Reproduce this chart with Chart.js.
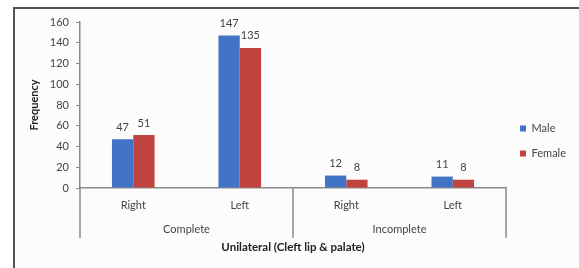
<!DOCTYPE html>
<html><head><meta charset="utf-8">
<script src="https://cdn.jsdelivr.net/npm/chart.js@4/dist/chart.umd.min.js"></script>
<style>
html,body{margin:0;padding:0;background:#fff;overflow:hidden;}
#frame{position:absolute;left:13px;top:7px;width:566px;height:261px;border-left:2px solid #555;border-top:2px solid #555;background:#fcfcfc;box-sizing:border-box;}
#wrap{position:absolute;left:0;top:0;width:579px;height:268px;}
</style></head><body>
<div id="frame"></div>
<div id="wrap"><canvas id="c" width="579" height="268"></canvas></div>
<script>
const categories = ['Right', 'Left', 'Right', 'Left'];
const groups = ['Complete', 'Incomplete'];
const seriesNames = ['Male', 'Female'];
const maleValues = [47, 147, 12, 11];
const femaleValues = [51, 135, 8, 8];
const yMin = 0, yMax = 160, yStep = 20;
const yTitle = 'Frequency';
const xTitle = 'Unilateral (Cleft lip & palate)';

const FONT = 'Lato';
const TXT = '#444';
const AXIS = '#8a8a8a';

const valueLabels = {
  id: 'valueLabels',
  afterDatasetsDraw(chart) {
    const ctx = chart.ctx;
    ctx.save();
    ctx.font = '11px ' + FONT;
    ctx.fillStyle = TXT;
    ctx.textAlign = 'center';
    ctx.textBaseline = 'middle';
    chart.data.datasets.forEach((ds, i) => {
      chart.getDatasetMeta(i).data.forEach((bar, j) => {
        ctx.fillText(String(ds.data[j]), bar.x, bar.y - 12);
      });
    });
    ctx.restore();
  }
};

const groupSeparators = {
  id: 'groupSeparators',
  afterDraw(chart) {
    const x = chart.scales.x;
    const ctx = chart.ctx;
    const per = categories.length / groups.length;
    const xs = [x.left];
    for (let g = 1; g < groups.length; g++) {
      xs.push((x.getPixelForValue(g * per - 1) + x.getPixelForValue(g * per)) / 2);
    }
    xs.push(x.right);
    const top = chart.chartArea.bottom;
    const bottom = top + 50;
    ctx.save();
    ctx.strokeStyle = AXIS;
    ctx.lineWidth = 1.5;
    xs.forEach(px => {
      ctx.beginPath();
      ctx.moveTo(px, top);
      ctx.lineTo(px, bottom);
      ctx.stroke();
    });
    ctx.restore();
  }
};

new Chart(document.getElementById('c'), {
  type: 'bar',
  data: {
    labels: categories,
    datasets: [
      { label: seriesNames[0], data: maleValues, backgroundColor: '#4174C4', categoryPercentage: 0.4, barPercentage: 1.0 },
      { label: seriesNames[1], data: femaleValues, backgroundColor: '#C0433F', categoryPercentage: 0.4, barPercentage: 1.0 }
    ]
  },
  options: {
    responsive: false,
    animation: false,
    layout: { padding: { top: 22, left: 14, bottom: 8, right: 3 } },
    plugins: {
      tooltip: { enabled: false },
      legend: {
        position: 'right',
        labels: { boxWidth: 6, boxHeight: 6, padding: 14, color: TXT, font: { family: FONT, size: 11 } }
      }
    },
    scales: {
      y: {
        min: yMin, max: yMax,
        ticks: { stepSize: yStep, color: TXT, padding: 7, font: { family: FONT, size: 11 } },
        grid: { display: true, drawOnChartArea: false, drawTicks: true, tickLength: 4, color: AXIS, lineWidth: 1 },
        border: { display: true, color: AXIS, width: 1.5 },
        title: { display: true, text: yTitle, color: '#222', font: { family: FONT, size: 11, weight: 'bold' }, padding: { top: 14 } },
        afterFit(s) { s.width = 66; }
      },
      x: {
        weight: 0,
        ticks: { color: TXT, padding: 11, font: { family: FONT, size: 11 } },
        grid: { display: true, drawOnChartArea: false, drawTicks: false, color: 'transparent' },
        border: { display: true, color: AXIS, width: 1.5 },
        afterFit(s) { s.height = 28; }
      },
      x2: {
        type: 'category',
        position: 'bottom',
        weight: 1,
        labels: groups,
        offset: true,
        ticks: { color: TXT, padding: 7, font: { family: FONT, size: 11 } },
        grid: { display: false, drawTicks: false },
        border: { display: false },
        title: { display: true, text: xTitle, color: '#222', font: { family: FONT, size: 11.5, weight: 'bold' }, padding: { top: 0, bottom: 6 } },
        afterFit(s) { s.height = 44; }
      }
    }
  },
  plugins: [valueLabels, groupSeparators]
});
</script>
</body></html>
